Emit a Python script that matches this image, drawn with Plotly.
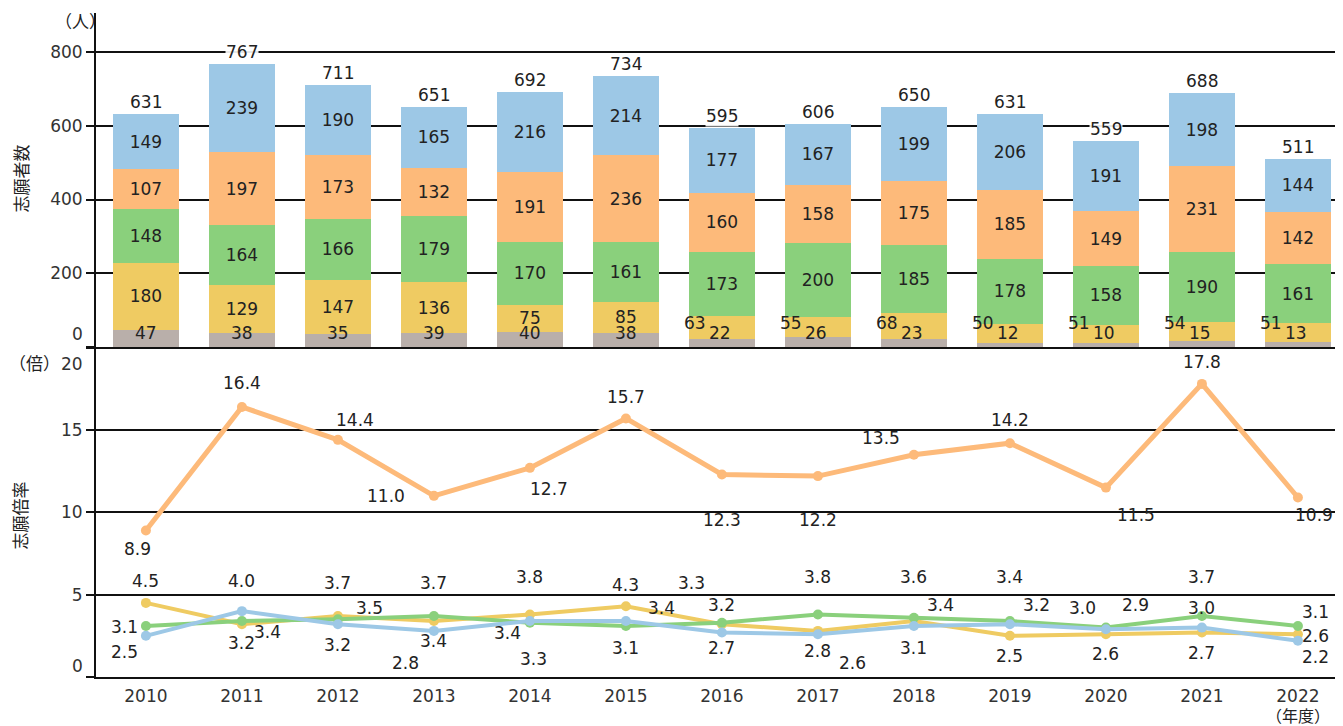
import plotly.graph_objects as go
from plotly.subplots import make_subplots

years = list(range(2010, 2023))

# 志願者数（人）
applicants_gray = [47, 38, 35, 39, 40, 38, 22, 26, 23, 12, 10, 15, 13]
applicants_yellow = [180, 129, 147, 136, 75, 85, 63, 55, 68, 50, 51, 54, 51]
applicants_green = [148, 164, 166, 179, 170, 161, 173, 200, 185, 178, 158, 190, 161]
applicants_orange = [107, 197, 173, 132, 191, 236, 160, 158, 175, 185, 149, 231, 142]
applicants_blue = [149, 239, 190, 165, 216, 214, 177, 167, 199, 206, 191, 198, 144]

# 志願倍率（倍）
ratio_orange = [8.9, 16.4, 14.4, 11.0, 12.7, 15.7, 12.3, 12.2, 13.5, 14.2, 11.5, 17.8, 10.9]
ratio_yellow = [4.5, 3.2, 3.7, 3.4, 3.8, 4.3, 3.2, 2.8, 3.4, 2.5, 2.6, 2.7, 2.6]
ratio_green = [3.1, 3.4, 3.5, 3.7, 3.3, 3.1, 3.3, 3.8, 3.6, 3.4, 3.0, 3.7, 3.1]
ratio_blue = [2.5, 4.0, 3.2, 2.8, 3.4, 3.4, 2.7, 2.6, 3.1, 3.2, 2.9, 3.0, 2.2]

# 倍率ラベルのずらし量 (px): (xshift, yshift)
off_orange = [(-8, -19), (0, 24), (17, 20), (-48, 0), (19, -21), (0, 21), (0, -46),
              (0, -44), (-33, 17), (0, 23), (30, -27), (0, 22), (16, -17)]
off_yellow = [(0, 22), (0, -19), (0, 33), (0, -20), (0, 37), (0, 21), (0, 19),
              (0, -20), (27, 16), (0, -20), (0, -20), (0, -20), (18, -2)]
off_green = [(-21, -1), (26, -11), (32, 11), (0, 33), (4, -36), (0, -22), (-30, 40),
             (0, 37), (0, 41), (0, 44), (-23, 20), (0, 39), (18, 14)]
off_blue = [(-21, -16), (0, 30), (0, -21), (-28, -32), (-22, -12), (36, 13), (0, -15),
            (35, -29), (0, -22), (27, 19), (30, 24), (0, 20), (18, -16)]

GRAY = "#B9AFAA"
YELLOW = "#EFCB62"
GREEN = "#8AD07C"
ORANGE = "#FDBA7A"
BLUE = "#9DC8E6"
TXT = "#222222"
FONT = "DejaVu Sans, Noto Sans CJK JP, sans-serif"
CJK = "Noto Sans CJK JP, sans-serif"

fig = make_subplots(rows=2, cols=1, shared_xaxes=True, vertical_spacing=0)

# 積み上げ棒
bar_sets = [
    (applicants_gray, GRAY, False),
    (applicants_yellow, YELLOW, "early"),
    (applicants_green, GREEN, True),
    (applicants_orange, ORANGE, True),
    (applicants_blue, BLUE, True),
]
for vals, color, lab in bar_sets:
    if lab is True:
        txt = [str(v) for v in vals]
    elif lab == "early":
        txt = [str(v) if y < 2016 else "" for y, v in zip(years, vals)]
    else:
        txt = ["" for _ in vals]
    fig.add_trace(go.Bar(
        x=years, y=vals, width=0.69, marker_color=color, marker_line_width=0,
        text=txt, textposition="inside", insidetextanchor="middle",
        textfont=dict(size=17, color=TXT, family=FONT), textangle=0,
        showlegend=False, hoverinfo="skip",
    ), row=1, col=1)

totals = [sum(t) for t in zip(applicants_gray, applicants_yellow, applicants_green,
                               applicants_orange, applicants_blue)]

lab_font = dict(size=17, color=TXT, family=FONT)
ann = []
for y, t in zip(years, totals):
    ann.append(dict(x=y, y=t, xref="x", yref="y", text=str(t), showarrow=False,
                    yanchor="bottom", yshift=1, bgcolor="rgba(255,255,255,0.9)",
                    borderpad=0, font=lab_font))
for y, v in zip(years, applicants_gray):
    ann.append(dict(x=y, y=0, xref="x", yref="y", text=str(v), showarrow=False,
                    yanchor="middle", yshift=14, xshift=-2 if y >= 2016 else 0,
                    font=lab_font))
for y, v in zip(years, applicants_yellow):
    if y >= 2016:
        ann.append(dict(x=y, y=0, xref="x", yref="y", text=str(v), showarrow=False,
                        yanchor="middle", yshift=24, xshift=-27, font=lab_font))

# 折れ線
line_sets = [
    (ratio_orange, ORANGE, off_orange, 5),
    (ratio_yellow, YELLOW, off_yellow, 4),
    (ratio_green, GREEN, off_green, 4),
    (ratio_blue, BLUE, off_blue, 4),
]
for vals, color, offs, w in line_sets:
    fig.add_trace(go.Scatter(
        x=years, y=vals, mode="lines+markers",
        line=dict(color=color, width=w), marker=dict(color=color, size=10),
        showlegend=False, hoverinfo="skip",
    ), row=2, col=1)
    for y, v, (dx, dy) in zip(years, vals, offs):
        ann.append(dict(x=y, y=v, xref="x2", yref="y2", text=f"{v:.1f}", showarrow=False,
                        xshift=dx, yshift=dy, font=lab_font))

# 軸まわりの文字
tick_font = dict(size=17, color="#333333", family=FONT)
cjk_font = dict(size=17, color=TXT, family=CJK)
side = dict(xref="paper", yref="paper", showarrow=False, xanchor="center",
            yanchor="middle", font=cjk_font)
ann += [
    dict(x=-0.0088, y=0, xref="paper", yref="y", text="0", showarrow=False,
         xanchor="right", yanchor="middle", yshift=13, font=tick_font),
    dict(x=-0.0088, y=0, xref="paper", yref="y2", text="0", showarrow=False,
         xanchor="right", yanchor="middle", yshift=11, font=tick_font),
    dict(x=-0.0088, y=20, xref="paper", yref="y2", text="20", showarrow=False,
         xanchor="right", yanchor="middle", yshift=-16, font=tick_font),
    dict(x=-0.0129, y=0.989, text="（人）", **side),
    dict(x=-0.0500, y=0.473, text="（倍）", **side),
    dict(x=-0.061, y=0.7515, text="志願者数", textangle=-90, **side),
    dict(x=-0.061, y=0.244, text="志願倍率", textangle=-90, **side),
    dict(x=2022, y=-0.057, xref="x2", yref="paper", text="（年度）", showarrow=False,
         xanchor="center", yanchor="middle", font=dict(size=16, color=TXT, family=CJK)),
]

axis_common = dict(showline=True, linecolor="#111111", linewidth=2,
                   gridcolor="#111111", gridwidth=1.5, zeroline=False,
                   ticks="outside", ticklen=8, tickwidth=2, tickcolor="#111111",
                   tickfont=tick_font)

# ページ本体の余白 8px を見込んだサイズ（1カテゴリ = 96px）
x_range = [2009.48, 2009.48 + 1239 / 96]
fig.update_layout(
    barmode="stack",
    width=1327, height=718,
    margin=dict(l=88, r=0, t=5, b=49),
    plot_bgcolor="white", paper_bgcolor="white",
    font=dict(family=FONT),
    annotations=ann,
    uniformtext=dict(minsize=17, mode="show"),
    xaxis=dict(range=x_range, showline=True, linecolor="#111111",
               linewidth=2, showticklabels=False, showgrid=False, ticks=""),
    xaxis2=dict(range=x_range, showline=True, linecolor="#111111",
                linewidth=2, showgrid=False, ticks="", dtick=1,
                tickfont=tick_font, ticklabelstandoff=3),
    yaxis=dict(domain=[0.497, 1], range=[0, 906],
               tickvals=[0, 200, 400, 600, 800],
               ticktext=["", "200", "400", "600", "800"], **axis_common),
    yaxis2=dict(domain=[0, 0.497], range=[0, 20.04],
                tickvals=[0, 5, 10, 15, 20],
                ticktext=["", "5", "10", "15", ""], **axis_common),
)

fig.write_html("out.html")
